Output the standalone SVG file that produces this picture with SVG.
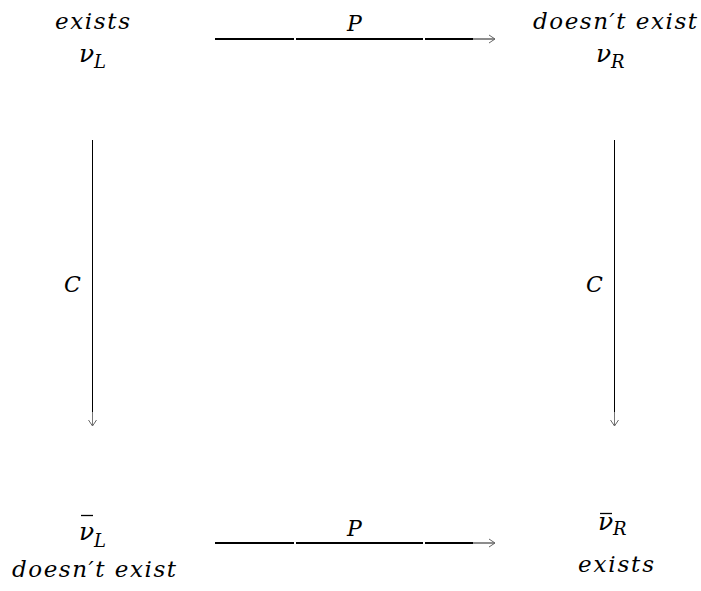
<svg xmlns="http://www.w3.org/2000/svg" width="701" height="591" viewBox="0 0 701 591">
<defs>
<style>
.t{font-family:"DejaVu Serif","Liberation Serif",serif;font-style:italic;fill:#000}
.w{font-size:23px}
.m{font-size:25px}
.s{font-size:18px}
.c{font-size:22px}
.blk{stroke:#000;stroke-width:2;fill:none}
.gry{stroke:#666;stroke-width:1.5;fill:none}
.v{stroke:#000;stroke-width:1;fill:none}
.vg{stroke:#777;stroke-width:1;fill:none}
</style>
<marker id="ah" markerWidth="10" markerHeight="10" refX="7" refY="5" orient="auto" markerUnits="userSpaceOnUse">
<path d="M1,1 L7,5 L1,9" fill="none" stroke="#666" stroke-width="1"/>
</marker>
</defs>
<rect width="701" height="591" fill="#fff"/>
<g id="nuL">
<text class="t w" x="55" y="29" textLength="75" lengthAdjust="spacing">exists</text>
<text class="t m" x="79" y="62">ν</text><text class="t s" x="94" y="68">L</text>
</g>
<g id="nuR">
<text class="t w" x="533" y="29" textLength="164" lengthAdjust="spacing">doesn′t exist</text>
<text class="t m" x="596" y="62">ν</text><text class="t s" x="611" y="68">R</text>
</g>
<g id="nubarL">
<text class="t m" x="79" y="540">ν</text><path d="M81,515.5 H93" stroke="#000" stroke-width="1.3"/><text class="t s" x="94" y="547">L</text>
<text class="t w" x="12" y="577" textLength="164" lengthAdjust="spacing">doesn′t exist</text>
</g>
<g id="nubarR">
<text class="t m" x="598" y="530">ν</text><path d="M600,513.5 H612" stroke="#000" stroke-width="1.3"/><text class="t s" x="613" y="535">R</text>
<text class="t w" x="578" y="572" textLength="76" lengthAdjust="spacing">exists</text>
</g>
<g id="connectors">
<path class="blk" d="M215,39 H294 M296,39 H423 M425,39 H473"/>
<path class="gry" d="M473,39 H495" marker-end="url(#ah)"/>
<path class="blk" d="M215,543 H294 M296,543 H423 M425,543 H473"/>
<path class="gry" d="M473,543 H495" marker-end="url(#ah)"/>
<path class="v" d="M92.5,140 V412"/>
<path class="vg" d="M92.5,412 V426" marker-end="url(#ah)"/>
<path class="v" d="M614.5,140 V412"/>
<path class="vg" d="M614.5,412 V426" marker-end="url(#ah)"/>
<text class="t c" x="347" y="31">P</text>
<text class="t c" x="347" y="536">P</text>
<text class="t c" x="64" y="292">C</text>
<text class="t c" x="586" y="292">C</text>
</g>
</svg>
